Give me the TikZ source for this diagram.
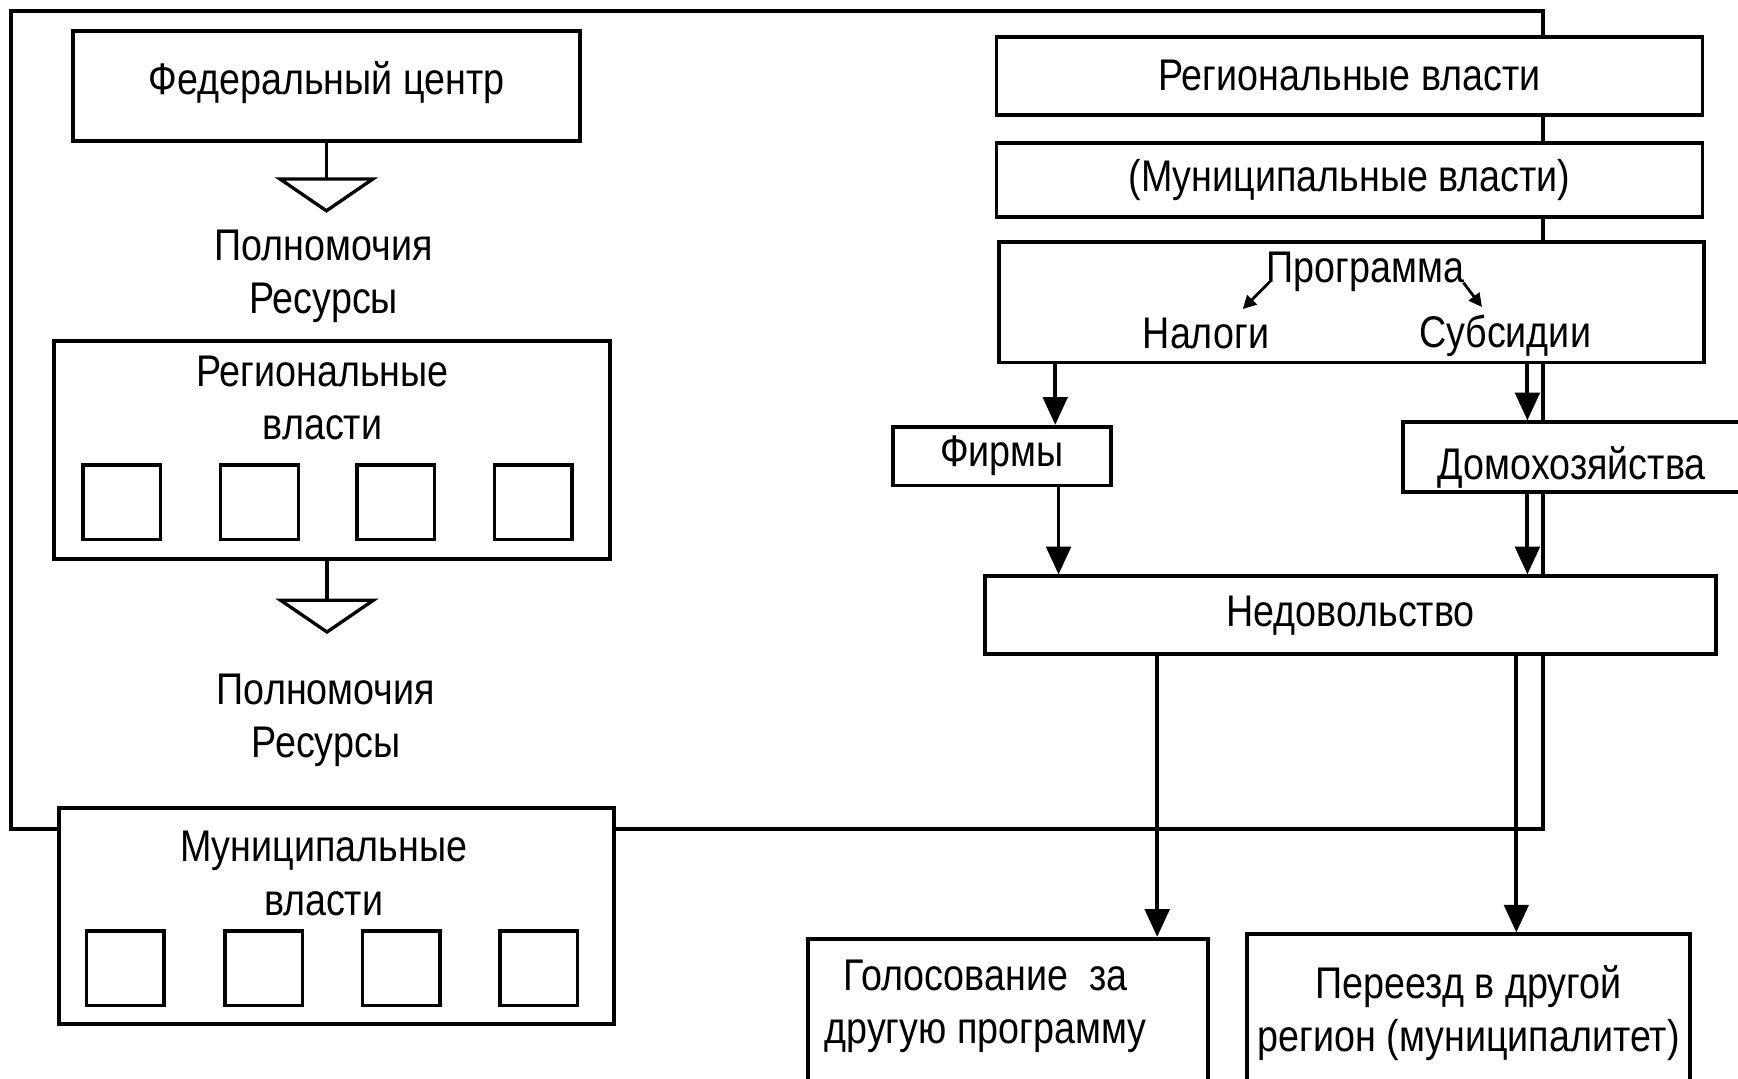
\documentclass[tikz,border=0pt]{standalone}
\usepackage{fontspec}
\setmainfont{Liberation Sans}[FakeStretch=0.85]
\usetikzlibrary{arrows.meta}
\newcommand\fs{\fontsize{40}{48}\selectfont}
\begin{document}
\begin{tikzpicture}[x=1pt,y=-1pt,
  bx/.style 2 args={draw,line width=3.5pt,fill=white,inner sep=0pt,font=\fs,
     minimum width=#1pt,minimum height=#2pt,align=center},
  lbl/.style={inner sep=0pt,font=\fs,align=center},
  sq/.style={draw,line width=3pt,fill=white,minimum width=70pt,minimum height=67pt,inner sep=0pt},
  arr/.style={line width=3.5pt,-{Triangle[length=25pt,width=22pt]}},
  sarr/.style={line width=2.5pt,-{Triangle[length=12pt,width=12pt]}},
  tri/.style={line width=3pt,-{Triangle[open,length=32pt,width=93pt,line width=3pt]}},
  frame/.style={line width=3.5pt}]
\useasboundingbox (0,0) rectangle (1568,973);
\fill[white] (0,0) rectangle (1568,973);
% outer frame
\draw[frame] (10,10) rectangle (1392,748);
% left column
\node[bx={457}{99},text height=29pt,text depth=13pt] (fed) at (294.5,77.5) {Федеральный центр};
\coordinate (t1) at (294.5,192);
\draw[tri] (fed.south) -- (t1);
\node[lbl] (pr1) at (292,249) {Полномочия\\Ресурсы};
\node[bx={501}{196}] (reg) at (299.5,406) {};
\node[lbl] (regt) at (291,359) {Региональные\\власти};
\node[sq] (r1) at (110,453) {};
\node[sq] (r2) at (234,453) {};
\node[sq] (r3) at (357,453) {};
\node[sq] (r4) at (481,453) {};
\coordinate (t2) at (295,572);
\draw[tri] (reg.south -| t2) -- (t2);
\node[lbl] (pr2) at (294,650) {Полномочия\\Ресурсы};
\node[bx={501}{195}] (mun) at (303.5,826.5) {};
\node[lbl] (munt) at (292,788) {Муниципальные\\власти};
\node[sq] (m1) at (113,873.5) {};
\node[sq] (m2) at (238,873.5) {};
\node[sq] (m3) at (362,873.5) {};
\node[sq] (m4) at (486,873.5) {};
% right column
\node[bx={637}{71}] (rv) at (1217.5,68.5) {Региональные власти};
\node[bx={637}{67}] (mv) at (1217.5,162.5) {(Муниципальные власти)};
\node[bx={636}{109}] (prog) at (1219,272.5) {};
\node[lbl] (progt) at (1232,245) {Программа};
\node[lbl] (nal) at (1088,301) {Налоги};
\node[lbl] (sub) at (1358,303) {Субсидии};
\draw[sarr] ([shift={(3,9)}]progt.west) -- ([shift={(-24,-8)}]nal.north east);
\draw[sarr] ([shift={(-1,10)}]progt.east) -- ([shift={(-21,-7)}]sub.north);
\node[bx={196}{53}] (firm) at (904,411.5) {Фирмы};
\node[bx={304}{63},text height=42pt,text depth=2pt] (dom) at (1418,412.5) {Домохозяйства};
\node[bx={659}{70}] (ned) at (1218.5,555) {Недовольство};
\node[bx={361}{148}] (vote) at (909.5,921) {};
\node[lbl] (votet) at (889,908) {Голосование\ \ за\\другую программу};
\node[bx={400}{142}] (move) at (1325,914) {Переезд в другой\\регион (муниципалитет)};
% connectors
\coordinate (c1) at (952,0);
\coordinate (c2) at (955,0);
\coordinate (c3) at (1378,0);
\coordinate (c4) at (1044,0);
\coordinate (c5) at (1368,0);
\draw[arr] (prog.south -| c1) -- (firm.north -| c1);
\draw[arr] (firm.south -| c2) -- (ned.north -| c2);
\draw[arr] (prog.south -| c3) -- (dom.north -| c3);
\draw[arr] (dom.south -| c3) -- (ned.north -| c3);
\draw[arr] (ned.south -| c4) -- (vote.north -| c4);
\draw[arr] (ned.south -| c5) -- (move.north -| c5);
\end{tikzpicture}
\end{document}
